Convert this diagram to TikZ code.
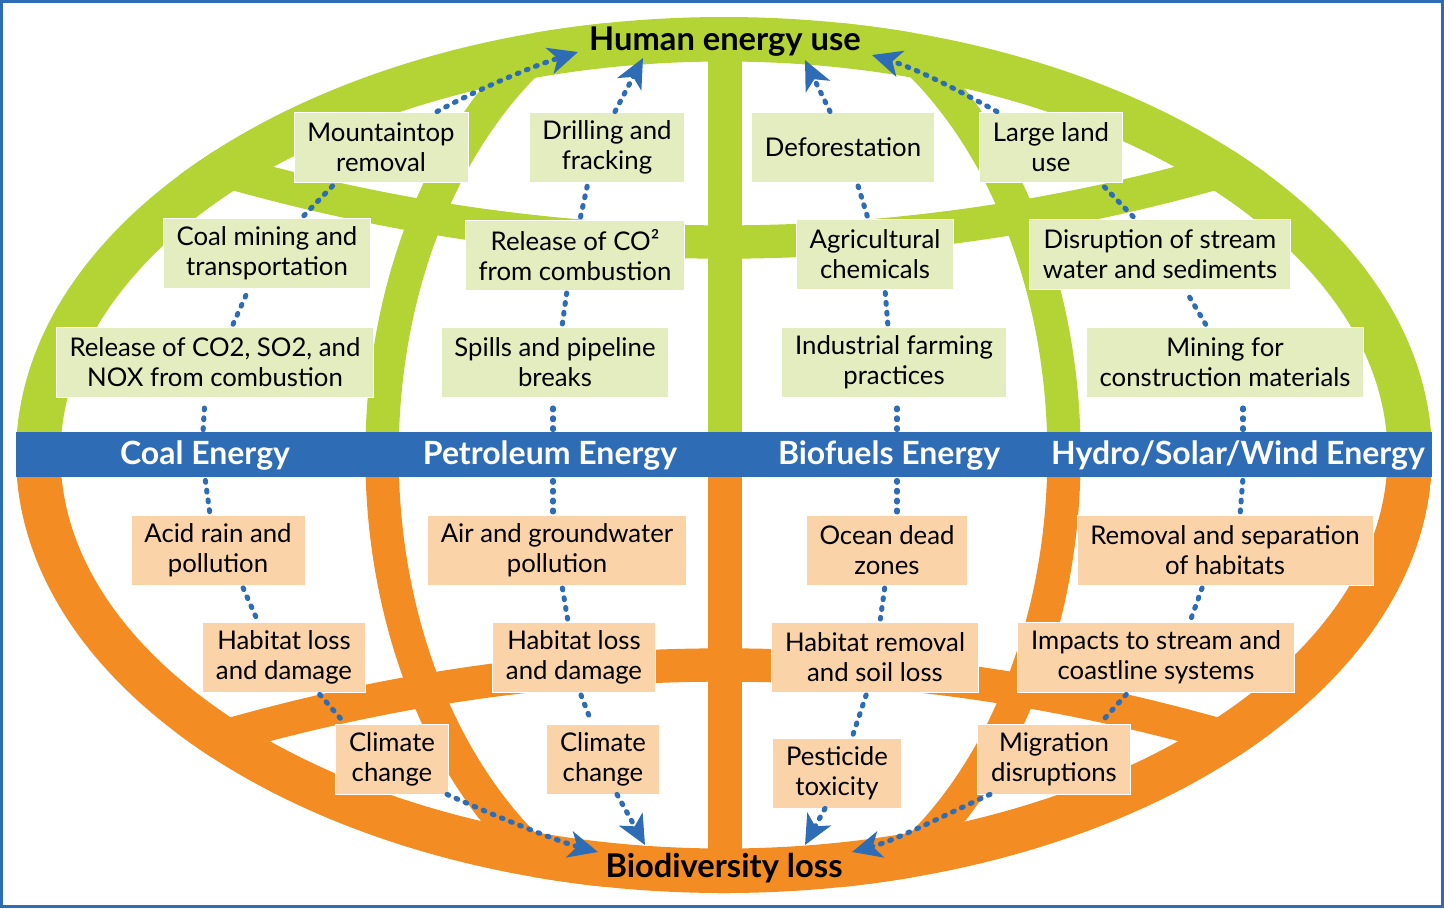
\documentclass[tikz,border=0pt]{standalone}
\usepackage{fontspec}
\setmainfont{Lato}
\usepackage{tikz}
\usetikzlibrary{arrows.meta, calc}

\definecolor{ringgreen}{RGB}{180,211,52}
\definecolor{ringorange}{RGB}{243,140,34}
\definecolor{bandblue}{RGB}{46,108,182}
\definecolor{boxgreen}{RGB}{228,237,192}
\definecolor{boxorange}{RGB}{250,211,169}

\begin{document}
\begin{tikzpicture}[x=0.75pt, y=-0.75pt,
    gbox/.style={fill=boxgreen, draw=white, line width=0.6pt, align=center, minimum height=52.5pt, inner xsep=10pt, inner ysep=3pt, font=\fontsize{19.3}{22.5}\selectfont},
    obox/.style={gbox, fill=boxorange},
    energy/.style={text=white, font=\bfseries\fontsize{24}{28}\selectfont, minimum height=33.75pt, inner sep=0pt},
    pole/.style={font=\bfseries\fontsize{24.5}{28}\selectfont, inner sep=2pt},
    dotline/.style={bandblue, line width=3.8pt, line cap=round, dash pattern=on 1.4pt off 6pt},
    headto/.style={-{Stealth[length=22pt, width=20pt, inset=6pt]}}]
    \useasboundingbox (0,0) rectangle (1444,908);
    \foreach \c/\ya/\yb in {ringgreen/0/455, ringorange/455/908}{
        \begin{scope}
            \clip (0,\ya) rectangle (1444,\yb);
            \clip (724,455) ellipse [x radius=708, y radius=438];
            \draw[\c, line width=25pt] (723,455) ellipse [x radius=341, y radius=480];
            \draw[\c, line width=25pt] (725,0) -- (725,908);
            \draw[\c, line width=25pt] (24,102) .. controls (490.7,288.7) and (957.3,288.7) .. (1424,102);
            \draw[\c, line width=25pt] (24,805) .. controls (490.7,618.3) and (957.3,618.3) .. (1424,805);
            \draw[\c, line width=33.75pt] (724,455) ellipse [x radius=686, y radius=416];
        \end{scope}
    }
    \fill[bandblue] (16,432) rectangle (1432,477);
    \draw[bandblue, line width=2.5pt] (1.7,1.7) rectangle (1442.3,906.3);
    \foreach \n/\x/\t in {coalE/205/Coal Energy, petE/550/Petroleum Energy, bioE/889/Biofuels Energy, hydroE/1238/{Hydro/Solar/Wind Energy}}
        \node[energy] (\n) at (\x,455) {\t};
    \node[pole] (human) at (725,42) {Human energy use};
    \node[pole] (loss) at (724,868) {Biodiversity loss};
    \foreach \n/\x/\y/\t in {mtop/381/147/{Mountaintop\\removal}, drill/607/147/{Drilling and\\fracking},
        defor/843/147/Deforestation, land/1051/147/{Large land\\use},
        coalmin/267/253/{Coal mining and\\transportation}, co2pet/575/255/{Release of CO²\\from combustion},
        agri/875/254/{Agricultural\\chemicals}, stream/1160/254/{Disruption of stream\\water and sediments},
        co2coal/215/362/{Release of CO2, SO2, and\\NOX from combustion}, spills/555/362/{Spills and pipeline\\breaks},
        farm/894/362/{Industrial farming\\practices}, minecon/1225/362/{Mining for\\construction materials}}
        \node[gbox] (\n) at (\x,\y) {\t};
    \foreach \n/\x/\y/\t in {acid/218/550/{Acid rain and\\pollution}, airgw/557/550/{Air and groundwater\\pollution},
        dead/887/550/{Ocean dead\\zones}, habsep/1225/550/{Removal and separation\\of habitats},
        habC/284/657/{Habitat loss\\and damage}, habP/574/657/{Habitat loss\\and damage},
        habrem/875/657/{Habitat removal\\and soil loss}, impacts/1156/657/{Impacts to stream and\\coastline systems},
        climC/392/759/{Climate\\change}, climP/603/759/{Climate\\change},
        pest/837/773/{Pesticide\\toxicity}, migr/1054/759/{Migration\\disruptions}}
        \node[obox] (\n) at (\x,\y) {\t};
    \foreach \a/\da/\b/\db in {coalE/-2/co2coal/-10, co2coal/17/coalmin/-18, coalmin/35/mtop/-45,
        petE/3/spills/-2, spills/7/co2pet/-8, co2pet/5/drill/-19,
        bioE/8/farm/3, farm/-6/agri/10, agri/-7/defor/14,
        hydroE/5/minecon/18, minecon/-18/stream/25, stream/-25/land/49}
        \draw[dotline, shorten <=2pt, shorten >=2pt] ($(\a.north)+(\da,0)$) -- ($(\b.south)+(\db,0)$);
    \foreach \a/\da/\b/\db in {coalE/0/acid/-8, acid/24/habC/-26, habC/34/climC/-47,
        petE/3/airgw/-4, airgw/5/habP/-6, habP/6/climP/-11,
        bioE/8/dead/10, dead/-2/habrem/5, habrem/-8/pest/15,
        hydroE/5/habsep/15, habsep/-22/impacts/34, impacts/-28/migr/46}
        \draw[dotline, shorten <=2pt, shorten >=2pt] ($(\a.south)+(\da,0)$) -- ($(\b.north)+(\db,0)$);
    \draw[dotline, headto] ($(mtop.north)+(56,0)$) .. controls +(40,-22) and +(-45,14) .. ($(human)+(-147,10)$);
    \draw[dotline, headto] ($(drill.north)+(8,0)$) -- ($(human)+(-82,16)$);
    \draw[dotline, headto] ($(defor.north)+(-13,0)$) -- ($(human)+(80,18)$);
    \draw[dotline, headto] ($(land.north)+(-54,0)$) .. controls +(-40,-22) and +(45,14) .. ($(human)+(147,13)$);
    \draw[dotline, headto] ($(climC.south)+(55,0)$) .. controls +(40,18) and +(-45,-12) .. ($(loss)+(-126,-16)$);
    \draw[dotline, headto] ($(climP.south)+(14,0)$) -- ($(loss)+(-79,-23)$);
    \draw[dotline, headto] ($(pest.south)+(-12,0)$) -- ($(loss)+(81,-23)$);
    \draw[dotline, headto] ($(migr.south)+(-64,0)$) .. controls +(-40,18) and +(45,-12) .. ($(loss)+(128,-16)$);
\end{tikzpicture}
\end{document}
